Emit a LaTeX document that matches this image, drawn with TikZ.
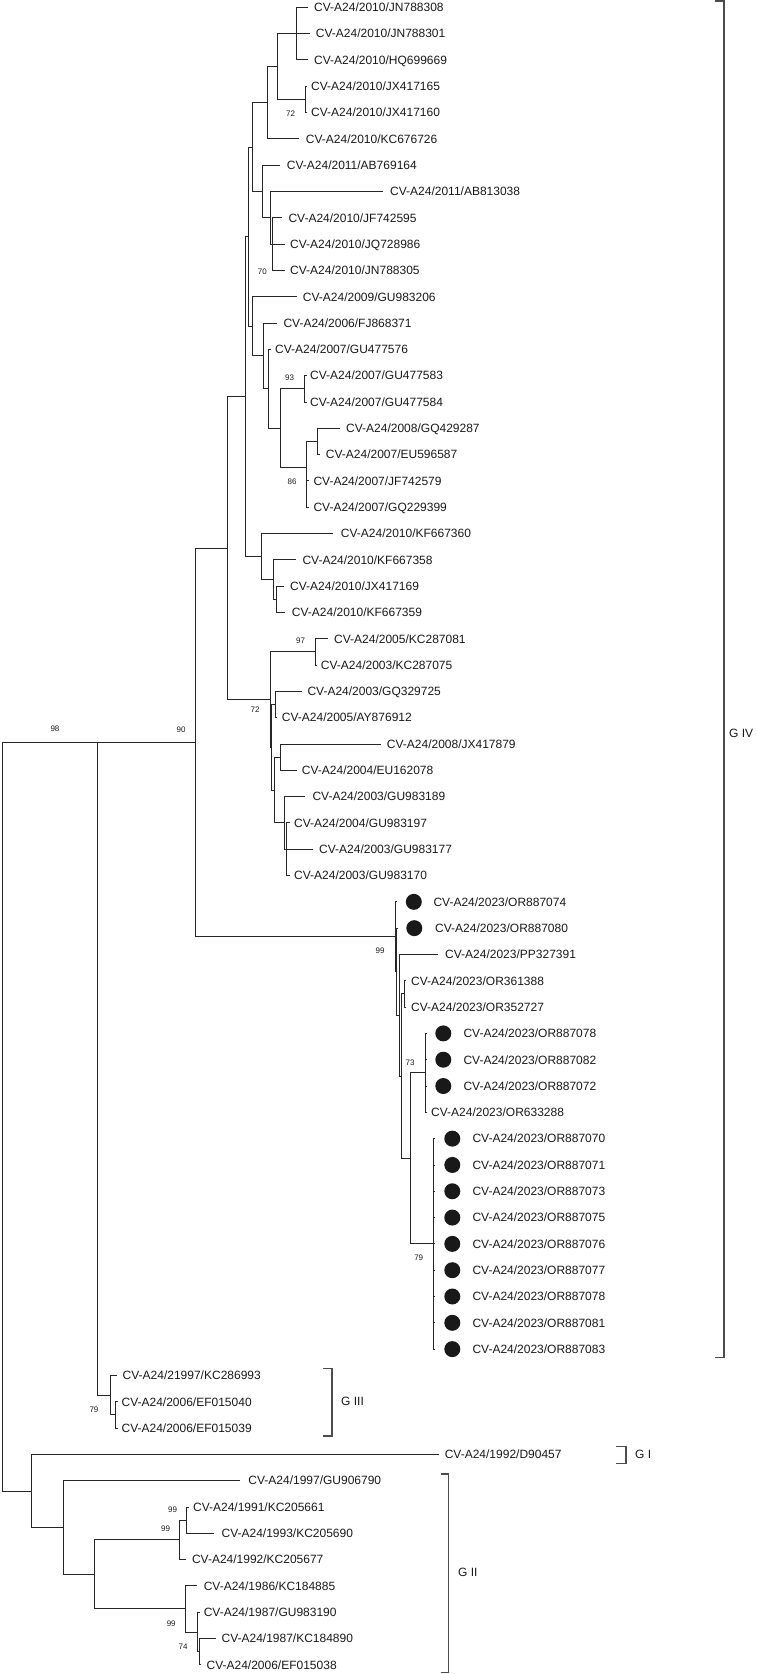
\documentclass[tikz,border=0pt]{standalone}
\usepackage{fontspec}
\setmainfont{Liberation Sans}
\usetikzlibrary{positioning}

\begin{document}
\begin{tikzpicture}[x=1pt, y=-1pt,
    branchline/.style={line width=0.9pt, black!85},
    cladebar/.style={line width=1.2pt, black!70},
    tiplabel/.style={anchor=west, inner sep=0pt, text height=8.6pt, text depth=0pt,
      font=\fontsize{12}{14}\selectfont, text=black!90},
    bootval/.style={inner sep=0pt, font=\fontsize{8}{9}\selectfont, text=black!90},
    cladename/.style={anchor=west, inner sep=0pt, text height=8.6pt, text depth=0pt,
      font=\fontsize{12}{14}\selectfont, text=black!90},
    sampledot/.style={circle, fill=black!90, inner sep=0pt, minimum size=16pt}]
  \useasboundingbox (0,0) rectangle (757,1674);

  % tips: index / tip end / label start / year / accession
  \foreach \i/\tx/\lx/\yr/\acc in {
      0/308/314/2010/JN788308, 1/310/315.7/2010/JN788301, 2/308/314/2010/HQ699669,
      3/307/311/2010/JX417165, 4/307/311/2010/JX417160, 5/299/305.7/2010/KC676726,
      6/280/286.7/2011/AB769164, 7/383/390/2011/AB813038, 8/281.7/288.3/2010/JF742595,
      9/285/290/2010/JQ728986, 10/285/290/2010/JN788305, 11/296.7/302.7/2009/GU983206,
      12/276.7/283.3/2006/FJ868371, 13/271/275/2007/GU477576, 14/307/310/2007/GU477583,
      15/307/310/2007/GU477584, 16/340/346/2008/GQ429287, 17/320/325.7/2007/EU596587,
      18/309/313.3/2007/JF742579, 19/309/313.3/2007/GQ229399, 20/333.3/340.7/2010/KF667360,
      21/295.7/302.3/2010/KF667358, 22/284.3/290/2010/JX417169, 23/285/291.7/2010/KF667359,
      24/328.3/334/2005/KC287081, 25/317/320.7/2003/KC287075, 26/301.7/307.3/2003/GQ329725,
      27/277/281.7/2005/AY876912, 28/380.7/386.7/2008/JX417879, 29/296.7/301.7/2004/EU162078,
      30/305/312.3/2003/GU983189, 31/290/294/2004/GU983197, 32/313.3/319/2003/GU983177,
      33/290/294/2003/GU983170, 34/397/433.3/2023/OR887074, 35/398/435/2023/OR887080,
      36/438.3/445/2023/PP327391, 37/406/411/2023/OR361388, 38/406/411/2023/OR352727,
      39/427/463.3/2023/OR887078, 40/427/463.3/2023/OR887082, 41/427/463.3/2023/OR887072,
      42/427/431/2023/OR633288, 43/435/472.3/2023/OR887070, 44/435/472.3/2023/OR887071,
      45/435/472.3/2023/OR887073, 46/435/472.3/2023/OR887075, 47/435/472.3/2023/OR887076,
      48/435/472.3/2023/OR887077, 49/435/472.3/2023/OR887078, 50/435/472.3/2023/OR887081,
      51/435/472.3/2023/OR887083, 52/117/122.5/21997/KC286993, 53/118/121.4/2006/EF015040,
      54/118/121.4/2006/EF015039, 55/438.6/444.6/1992/D90457, 56/240/248.2/1997/GU906790,
      57/189/192.9/1991/KC205661, 58/214.3/221.4/1993/KC205690, 59/185.7/191.8/1992/KC205677,
      60/197/203.6/1986/KC184885, 61/200/203.6/1987/GU983190, 62/216/221.4/1987/KC184890,
      63/200.5/206.4/2006/EF015038} {
    \coordinate (l\i) at (\tx, {7.3+26.31*\i});
    \node[tiplabel] (t\i) at (\lx, {7.3+26.31*\i}) {CV-A24/\yr/\acc};
  }

  % own samples
  \foreach \i/\dx in {34/413.8, 35/414.3, 39/443.3, 40/443.3, 41/443.3,
      43/452.3, 44/452.3, 45/452.3, 46/452.3, 47/452.3, 48/452.3, 49/452.3, 50/452.3, 51/452.3}
    \node[sampledot] (s\i) at (\dx, {7.3+26.31*\i}) {};

  % internal nodes
  \coordinate (a1) at (296.7,33.61);
  \coordinate (a2) at (305,99.39);
  \coordinate (a3) at (277.7,66.5);
  \coordinate (a4) at (267.7,102.68);
  \coordinate (b1) at (272,244.09);
  \coordinate (b2) at (270,217.78);
  \coordinate (b3) at (262.7,191.47);
  \coordinate (a5) at (252.7,147.08);
  \coordinate (c1) at (304.3,388.8);
  \coordinate (c2) at (317.7,441.42);
  \coordinate (c3) at (306.7,494.04);
  \coordinate (c4) at (306,467.73);
  \coordinate (c5) at (280,428.27);
  \coordinate (c6) at (268.3,388.8);
  \coordinate (c7) at (263.3,355.91);
  \coordinate (c8) at (252.7,326.31);
  \coordinate (a6) at (248.3,236.7);
  \coordinate (d1) at (276,599.28);
  \coordinate (d2) at (273.3,579.55);
  \coordinate (d3) at (261,556.53);
  \coordinate (a7) at (245,396.62);
  \coordinate (e1) at (315.7,651.9);
  \coordinate (e2) at (275.3,704.52);
  \coordinate (e3) at (280.7,757.14);
  \coordinate (e4) at (284,822.91);
  \coordinate (e5) at (286.7,849.22);
  \coordinate (e6) at (274,790.03);
  \coordinate (e7) at (271.7,747.28);
  \coordinate (e8) at (270,699.59);
  \coordinate (a8) at (227.3,548.11);
  \coordinate (f1) at (404,993.93);
  \coordinate (f2) at (425,1072.86);
  \coordinate (f3) at (433.3,1243.87);
  \coordinate (f4) at (410,1158.37);
  \coordinate (f5) at (401.7,1076.15);
  \coordinate (f6) at (399.3,1015.31);
  \coordinate (f7) at (396,971.73);
  \coordinate (f8) at (395,936.79);
  \coordinate (a9) at (195.7,742.45);
  \coordinate (g1) at (115,1414.89);
  \coordinate (g2) at (110.7,1395.16);
  \coordinate (a10) at (97,742.45);
  \coordinate (h1) at (186.8,1520.13);
  \coordinate (h2) at (179.6,1539.86);
  \coordinate (h3) at (199,1651.68);
  \coordinate (h4) at (197.5,1631.94);
  \coordinate (h5) at (185.7,1608.92);
  \coordinate (h6) at (94.6,1574.39);
  \coordinate (h7) at (63.2,1527.53);
  \coordinate (h8) at (31.4,1490.94);
  \coordinate (root) at (2,742.45);

  % branches
  \foreach \p/\c in {a1/l0, a1/l1, a1/l2, a2/l3, a2/l4, a3/a1, a3/a2, a4/a3, a4/l5,
      b1/l8, b1/l9, b1/l10, b2/l7, b2/b1, b3/l6, b3/b2, a5/a4, a5/b3,
      c1/l14, c1/l15, c2/l16, c2/l17, c3/l18, c3/l19, c4/c2, c4/c3, c5/c1, c5/c4,
      c6/l13, c6/c5, c7/l12, c7/c6, c8/l11, c8/c7, a6/a5, a6/c8,
      d1/l22, d1/l23, d2/l21, d2/d1, d3/l20, d3/d2, a7/a6, a7/d3,
      e1/l24, e1/l25, e2/l26, e2/l27, e3/l28, e3/l29, e5/l31, e5/l33,
      e4/l30, e4/l32, e4/e5, e6/e3, e6/e4, e7/e2, e7/e6, e8/e1, e8/e7, a8/a7, a8/e8,
      f1/l37, f1/l38, f2/l39, f2/l40, f2/l41, f2/l42,
      f3/l43, f3/l44, f3/l45, f3/l46, f3/l47, f3/l48, f3/l49, f3/l50, f3/l51,
      f4/f2, f4/f3, f5/f1, f5/f4, f6/l36, f6/f5, f7/l35, f7/f6, f8/l34, f8/f7,
      a9/a8, a9/f8, g1/l53, g1/l54, g2/l52, g2/g1, a10/a9, a10/g2,
      h1/l57, h1/l58, h2/h1, h2/l59, h3/l62, h3/l63, h4/l61, h4/h3, h5/l60, h5/h4,
      h6/h2, h6/h5, h7/l56, h7/h6, h8/l55, h8/h7, root/a10, root/h8}
    \draw[branchline] (\p) |- (\c);

  % bootstrap values
  \node[bootval] (bs1) at (290.5,114) {72};
  \node[bootval] (bs2) at (262.3,271.7) {70};
  \node[bootval] (bs3) at (289.5,377.7) {93};
  \node[bootval] (bs4) at (292,481.7) {86};
  \node[bootval] (bs5) at (300.5,641) {97};
  \node[bootval] (bs6) at (255,710) {72};
  \node[bootval] (bs7) at (181,730) {90};
  \node[bootval] (bs8) at (55,729) {98};
  \node[bootval] (bs9) at (380,950.7) {99};
  \node[bootval] (bs10) at (410,1062.3) {73};
  \node[bootval] (bs11) at (418.7,1257.7) {79};
  \node[bootval] (bs12) at (94,1410) {79};
  \node[bootval] (bs13) at (172.5,1509.3) {99};
  \node[bootval] (bs14) at (165.5,1529) {99};
  \node[bootval] (bs15) at (171.2,1623.3) {99};
  \node[bootval] (bs16) at (183,1646.7) {74};

  % genotype brackets
  \draw[cladebar] (715,1) -| (724,1357.3) -- (715,1357.3);
  \node[cladename] (gIV) at (729,733) {G IV};
  \draw[cladebar] (323,1368.3) -| (332,1436) -- (323,1436);
  \node[cladename] (gIII) at (341,1401) {G III};
  \draw[cladebar] (616,1446.7) -| (626,1463.3) -- (616,1463.3);
  \node[cladename] (gI) at (635,1454) {G I};
  \draw[cladebar] (441,1474) -| (448.2,1672.7) -- (441,1672.7);
  \node[cladename] (gII) at (458,1571.7) {G II};
\end{tikzpicture}
\end{document}
